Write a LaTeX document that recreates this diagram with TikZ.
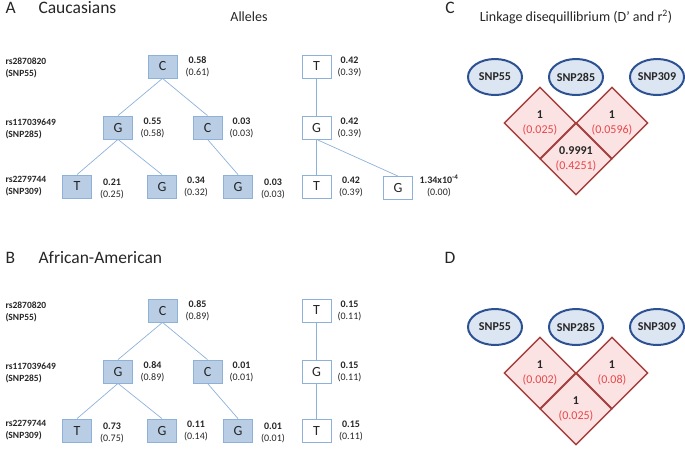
\documentclass[tikz,border=0pt]{standalone}
\usepackage{fontspec}
\setmainfont{Carlito}
\usetikzlibrary{shapes.geometric}
\definecolor{boxfill}{HTML}{B9CDE5}
\definecolor{boxline}{HTML}{8EB1DA}
\definecolor{snpfill}{HTML}{DCE6F2}
\definecolor{snpline}{HTML}{2B5192}
\definecolor{ldfill}{HTML}{FBE3E3}
\definecolor{ldline}{HTML}{A43F3D}
\definecolor{ldred}{HTML}{E8474B}
\definecolor{txt}{HTML}{262626}
\tikzstyle{every node}=[text=txt]
\tikzstyle{allele}=[draw=boxline,fill=boxfill,rectangle,line width=0.8pt,minimum width=29pt,minimum height=23pt,inner sep=0pt,font=\fontsize{14}{14}\selectfont]
\tikzstyle{minor}=[allele,fill=white]
\tikzstyle{freq}=[align=center,font=\fontsize{10}{12}\selectfont]
\tikzstyle{rsname}=[align=left,anchor=west,font=\bfseries\fontsize{9.5}{12}\selectfont]
\tikzstyle{branch}=[draw=boxline,line width=0.7pt]
\tikzstyle{snp}=[ellipse,draw=snpline,fill=snpfill,line width=2pt,minimum width=54pt,minimum height=36pt,inner sep=0pt,font=\bfseries\fontsize{12}{14}\selectfont]
\tikzstyle{ld}=[diamond,draw=ldline,fill=ldfill,line width=1.4pt,minimum width=72pt,minimum height=72pt,inner sep=0pt,align=center,font=\fontsize{12}{14.5}\selectfont]
\tikzstyle{panel}=[anchor=west,font=\fontsize{17.5}{20}\selectfont]
\tikzstyle{subtitle}=[font=\fontsize{14}{16}\selectfont]
\newcommand{\fr}[2]{\textbf{#1}\\#2}
\newcommand{\dr}[2]{\textbf{#1}\\\textcolor{ldred}{#2}}

\begin{document}
\begin{tikzpicture}[x=1pt,y=-1pt]
  \useasboundingbox (0,0) rectangle (685,448);
  % panel A: Caucasians
  \node[panel] (Alab) at (2,8) {A};
  \node[panel] (Atitle) at (35,8) {Caucasians};
  \node[subtitle] (alleles) at (249,17) {Alleles};
  \node[rsname] (ars1) at (2,68) {rs2870820\\(SNP55)};
  \node[rsname] (ars2) at (2,128.5) {rs117039649\\(SNP285)};
  \node[rsname] (ars3) at (2,186.5) {rs2279744\\(SNP309)};
  \node[allele] (aC1) at (162.5,66.5) {C};
  \node[minor] (aT1) at (316.5,66.5) {T};
  \node[allele] (aG2) at (118,127.5) {G};
  \node[allele] (aC2) at (207.5,127.5) {C};
  \node[minor] (aG2w) at (316.5,127.5) {G};
  \node[allele] (aT3) at (77,186.5) {T};
  \node[allele] (aG3) at (162,186.5) {G};
  \node[allele] (aG3b) at (238,186.5) {G};
  \node[minor] (aT3w) at (316.5,186.5) {T};
  \node[minor] (aG3w) at (398,188) {G};
  \node[freq, right of=aC1, node distance=35pt] (aC1f) {\fr{0.58}{(0.61)}};
  \node[freq, right of=aT1, node distance=33pt] (aT1f) {\fr{0.42}{(0.39)}};
  \node[freq, right of=aG2, node distance=34.5pt] (aG2f) {\fr{0.55}{(0.58)}};
  \node[freq, right of=aC2, node distance=34pt] (aC2f) {\fr{0.03}{(0.03)}};
  \node[freq, right of=aG2w, node distance=33pt] (aG2wf) {\fr{0.42}{(0.39)}};
  \node[freq, right of=aT3, node distance=35pt, yshift=-2pt] (aT3f) {\fr{0.21}{(0.25)}};
  \node[freq, right of=aG3, node distance=34pt] (aG3f) {\fr{0.34}{(0.32)}};
  \node[freq, right of=aG3b, node distance=35pt, yshift=-2pt] (aG3bf) {\fr{0.03}{(0.03)}};
  \node[freq, right of=aT3w, node distance=34.5pt] (aT3wf) {\fr{0.42}{(0.39)}};
  \node[freq, right of=aG3w, node distance=41pt, yshift=2pt] (aG3wf) {\fr{1.34x10\textsuperscript{-4}}{(0.00)}};
  \draw[branch] (aC1.south) -- (aG2.north);
  \draw[branch] (aC1.south) -- (aC2.north);
  \draw[branch] (aG2.south) -- (aT3.north);
  \draw[branch] (aG2.south) -- (aG3.north);
  \draw[branch] (aC2.south) -- (aG3b.north);
  \draw[branch] (aT1.south) -- (aG2w.north);
  \draw[branch] (aG2w.south) -- (aT3w.north);
  \draw[branch] (aG2w.south) -- (aG3w.north);

  % panel B: African-American
  \node[panel] (Blab) at (2,258) {B};
  \node[panel] (Btitle) at (35,258) {African-American};
  \node[rsname] (brs1) at (2,312) {rs2870820\\(SNP55)};
  \node[rsname] (brs2) at (2,372.5) {rs117039649\\(SNP285)};
  \node[rsname] (brs3) at (2,430.5) {rs2279744\\(SNP309)};
  \node[allele] (bC1) at (162.5,310.5) {C};
  \node[minor] (bT1) at (316.5,310.5) {T};
  \node[allele] (bG2) at (118,371.5) {G};
  \node[allele] (bC2) at (207.5,371.5) {C};
  \node[minor] (bG2w) at (316.5,371.5) {G};
  \node[allele] (bT3) at (77,430.5) {T};
  \node[allele] (bG3) at (162,430.5) {G};
  \node[allele] (bG3b) at (238,430.5) {G};
  \node[minor] (bT3w) at (316.5,430.5) {T};
  \node[freq, right of=bC1, node distance=35pt] (bC1f) {\fr{0.85}{(0.89)}};
  \node[freq, right of=bT1, node distance=33pt] (bT1f) {\fr{0.15}{(0.11)}};
  \node[freq, right of=bG2, node distance=34.5pt] (bG2f) {\fr{0.84}{(0.89)}};
  \node[freq, right of=bC2, node distance=34pt] (bC2f) {\fr{0.01}{(0.01)}};
  \node[freq, right of=bG2w, node distance=33pt] (bG2wf) {\fr{0.15}{(0.11)}};
  \node[freq, right of=bT3, node distance=35pt, yshift=-2pt] (bT3f) {\fr{0.73}{(0.75)}};
  \node[freq, right of=bG3, node distance=34pt] (bG3f) {\fr{0.11}{(0.14)}};
  \node[freq, right of=bG3b, node distance=35pt, yshift=-2pt] (bG3bf) {\fr{0.01}{(0.01)}};
  \node[freq, right of=bT3w, node distance=34.5pt] (bT3wf) {\fr{0.15}{(0.11)}};
  \draw[branch] (bC1.south) -- (bG2.north);
  \draw[branch] (bC1.south) -- (bC2.north);
  \draw[branch] (bG2.south) -- (bT3.north);
  \draw[branch] (bG2.south) -- (bG3.north);
  \draw[branch] (bC2.south) -- (bG3b.north);
  \draw[branch] (bT1.south) -- (bG2w.north);
  \draw[branch] (bG2w.south) -- (bT3w.north);

  % panel C: LD, Caucasians
  \node[panel, anchor=center] (Clab) at (450,8) {C};
  \node[subtitle] (ldtitle) at (576,17) {Linkage disequillibrium (D’ and r\textsuperscript{2})};
  \node[snp] (cs55) at (495,77) {SNP55};
  \node[snp] (cs285) at (576,77) {SNP285};
  \node[snp] (cs309) at (657,77) {SNP309};
  \node[ld] (cld1) at (540,123) {\dr{1}{(0.025)}};
  \node[ld] (cld2) at (612,123) {\dr{1}{(0.0596)}};
  \node[ld] (cld3) at (576,159) {\dr{0.9991}{(0.4251)}};

  % panel D: LD, African-American
  \node[panel, anchor=center] (Dlab) at (450,258) {D};
  \node[snp] (ds55) at (495,327) {SNP55};
  \node[snp] (ds285) at (576,327) {SNP285};
  \node[snp] (ds309) at (657,327) {SNP309};
  \node[ld] (dld1) at (540,373) {\dr{1}{(0.002)}};
  \node[ld] (dld2) at (612,373) {\dr{1}{(0.08)}};
  \node[ld] (dld3) at (576,409) {\dr{1}{(0.025)}};
\end{tikzpicture}
\end{document}
